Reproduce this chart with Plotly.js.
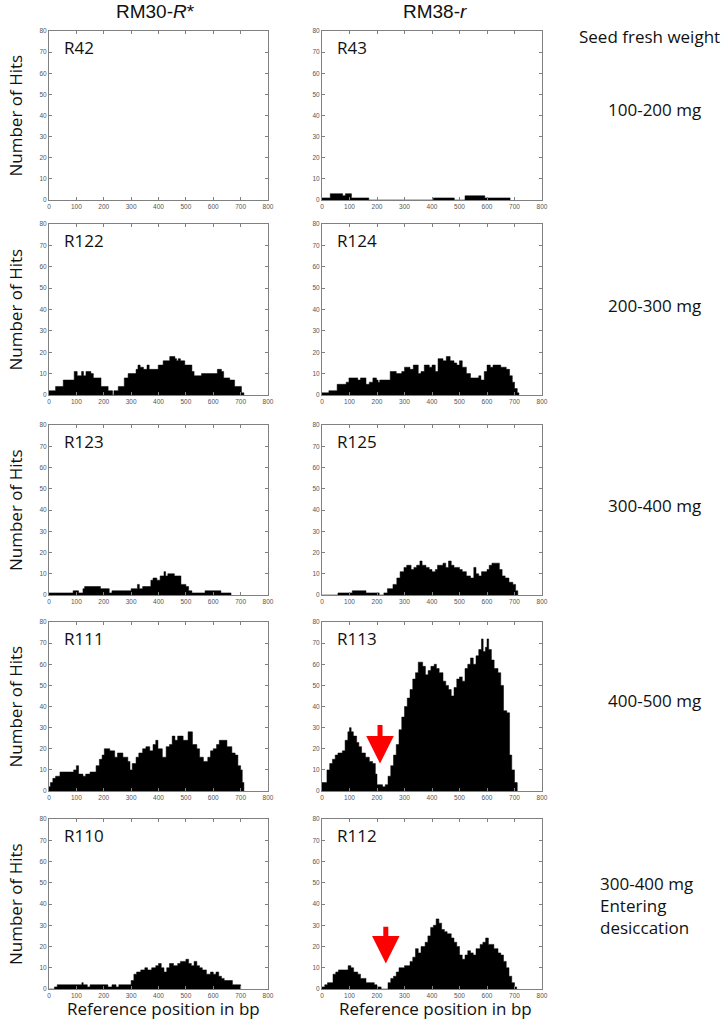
<!DOCTYPE html>
<html>
<head>
<meta charset="utf-8">
<script src="https://cdn.plot.ly/plotly-3.0.1.min.js"></script>
<style>
  html, body { margin: 0; padding: 0; background: #fff; }
  #chart { width: 724px; height: 1028px; }
</style>
</head>
<body>
<div id="chart"></div>
<script>
// coverage profiles: step start position (bp) and number of hits from there on
var r42Pos = [];
var r42Hits = [];
var r43Pos = [0, 30, 75, 85, 107, 170, 405, 481, 520, 592, 684];
var r43Hits = [1, 3, 2, 3, 1, 0, 1, 0, 2, 1, 0];

var r122Pos = [0, 24, 52, 92, 103, 119, 126, 135, 153, 162, 190, 216, 232, 237, 253, 275, 289, 318, 325, 333, 345, 358, 366, 399, 417, 441, 460, 466, 472, 480, 496, 522, 530, 557, 615, 630, 638, 660, 678, 703, 712];
var r122Hits = [2, 4, 7, 11, 9, 11, 9, 11, 10, 8, 4, 2, 0, 2, 4, 8, 10, 12, 14, 13, 12, 14, 12, 14, 16, 18, 17, 16, 17, 16, 14, 11, 9, 10, 12, 11, 8, 7, 4, 1, 0];
var r124Pos = [0, 25, 55, 88, 98, 130, 140, 160, 172, 185, 198, 204, 210, 248, 270, 290, 300, 320, 332, 350, 360, 372, 390, 400, 412, 422, 440, 452, 466, 480, 490, 500, 510, 525, 540, 570, 578, 590, 600, 612, 622, 650, 670, 682, 692, 700, 710, 716];
var r124Hits = [1, 2, 5, 6, 8, 7, 8, 5, 6, 8, 7, 6, 7, 11, 10, 11, 13, 12, 14, 10, 11, 14, 13, 14, 11, 17, 16, 18, 16, 15, 14, 16, 13, 10, 8, 9, 7, 11, 14, 13, 14, 13, 12, 9, 6, 3, 1, 0];

var r123Pos = [0, 88, 108, 124, 130, 188, 220, 230, 300, 323, 330, 342, 372, 380, 394, 406, 420, 426, 434, 458, 482, 500, 510, 522, 570, 628, 665];
var r123Hits = [1, 2, 1, 3, 4, 3, 1, 2, 3, 5, 3, 4, 7, 8, 7, 9, 11, 9, 10, 9, 5, 4, 2, 1, 2, 1, 0];
var r125Pos = [0, 58, 110, 160, 208, 225, 238, 258, 272, 284, 298, 308, 324, 334, 344, 356, 364, 378, 390, 400, 412, 420, 440, 450, 460, 470, 480, 500, 510, 525, 540, 552, 560, 570, 580, 600, 608, 618, 645, 655, 666, 680, 694, 704, 712];
var r125Hits = [0, 1, 2, 1, 0, 1, 3, 5, 8, 11, 13, 14, 12, 13, 14, 16, 14, 13, 12, 11, 12, 14, 15, 13, 16, 14, 13, 12, 11, 9, 8, 13, 10, 9, 11, 12, 14, 15, 12, 9, 8, 6, 5, 2, 0];

var r111Pos = [0, 5, 14, 24, 40, 90, 100, 108, 124, 134, 150, 172, 184, 194, 202, 222, 240, 250, 270, 288, 296, 304, 318, 328, 342, 354, 368, 380, 390, 398, 414, 428, 440, 450, 460, 470, 490, 508, 524, 540, 550, 564, 580, 590, 600, 612, 622, 650, 668, 680, 690, 700, 706, 712];
var r111Hits = [2, 4, 6, 7, 9, 10, 12, 8, 7, 8, 9, 12, 15, 17, 20, 19, 16, 18, 16, 14, 10, 13, 16, 18, 20, 21, 19, 22, 24, 20, 16, 21, 22, 26, 24, 26, 24, 28, 22, 20, 16, 14, 16, 19, 20, 22, 24, 21, 18, 17, 12, 10, 4, 0];
var r113Pos = [0, 18, 28, 38, 48, 58, 74, 84, 94, 100, 106, 114, 126, 134, 144, 158, 172, 184, 194, 200, 220, 230, 240, 250, 260, 270, 280, 290, 300, 310, 320, 330, 340, 350, 366, 376, 386, 396, 408, 416, 426, 440, 450, 460, 470, 480, 490, 500, 510, 520, 530, 540, 550, 560, 570, 580, 586, 594, 600, 606, 616, 626, 640, 650, 660, 672, 682, 690, 700, 710];
var r113Hits = [4, 10, 13, 15, 17, 18, 19, 24, 28, 30, 28, 26, 23, 21, 18, 16, 14, 13, 8, 3, 2, 3, 7, 12, 17, 22, 29, 35, 40, 44, 48, 53, 56, 61, 59, 55, 57, 59, 60, 58, 56, 52, 50, 48, 45, 49, 53, 54, 52, 58, 60, 63, 60, 64, 67, 72, 66, 68, 72, 67, 62, 58, 56, 50, 38, 37, 17, 10, 4, 0];

var r110Pos = [0, 20, 30, 120, 125, 140, 150, 215, 230, 245, 255, 300, 310, 320, 335, 350, 360, 375, 390, 400, 410, 420, 430, 440, 455, 470, 480, 500, 510, 520, 530, 540, 550, 560, 575, 590, 600, 610, 620, 630, 640, 670, 700];
var r110Hits = [0, 1, 2, 3, 2, 1, 2, 1, 2, 1, 2, 4, 7, 8, 9, 10, 9, 10, 11, 12, 10, 8, 10, 12, 11, 12, 13, 14, 12, 11, 13, 11, 10, 9, 7, 8, 7, 8, 6, 5, 4, 2, 0];
var r112Pos = [0, 10, 20, 40, 50, 60, 95, 105, 115, 130, 140, 160, 190, 200, 215, 240, 250, 260, 270, 280, 300, 320, 330, 340, 350, 360, 375, 385, 395, 405, 415, 425, 435, 445, 455, 470, 480, 490, 500, 510, 520, 530, 540, 550, 560, 575, 585, 595, 605, 625, 640, 650, 660, 670, 680, 690, 700, 708];
var r112Hits = [1, 2, 3, 7, 8, 9, 11, 10, 8, 7, 5, 3, 2, 1, 0, 3, 5, 6, 8, 10, 11, 13, 15, 19, 17, 20, 22, 25, 29, 30, 33, 31, 28, 27, 26, 24, 22, 20, 16, 14, 16, 18, 17, 16, 19, 21, 22, 24, 21, 19, 17, 16, 13, 10, 6, 3, 1, 0];

var columnNames = ['RM30-<i>R</i>*', 'RM38-<i>r</i>'];
var rowNames = ['100-200 mg', '200-300 mg', '300-400 mg', '400-500 mg', '300-400 mg<br>Entering<br>desiccation'];

var panels = [
  {name: 'R42', x: r42Pos, y: r42Hits},
  {name: 'R43', x: r43Pos, y: r43Hits},
  {name: 'R122', x: r122Pos, y: r122Hits},
  {name: 'R124', x: r124Pos, y: r124Hits},
  {name: 'R123', x: r123Pos, y: r123Hits},
  {name: 'R125', x: r125Pos, y: r125Hits},
  {name: 'R111', x: r111Pos, y: r111Hits},
  {name: 'R113', x: r113Pos, y: r113Hits},
  {name: 'R110', x: r110Pos, y: r110Hits},
  {name: 'R112', x: r112Pos, y: r112Hits}
];

// pixel frame of each panel
var W = 724, H = 1028;
var rowTop = [31, 224, 425, 622, 819];
var rowBot = [200, 395, 595, 791, 989];
var colLeft = [49, 322];
var colRight = [268, 542];

var labelFont = {family: 'Open Sans', size: 17, color: '#111'};

var data = [];
var layout = {
  width: W,
  height: H,
  margin: {l: 0, r: 0, t: 0, b: 0},
  paper_bgcolor: 'white',
  plot_bgcolor: 'white',
  showlegend: false,
  annotations: []
};

panels.forEach(function (p, i) {
  var r = Math.floor(i / 2), c = i % 2;
  var n = i + 1;
  var xk = n == 1 ? 'x' : 'x' + n;
  var yk = n == 1 ? 'y' : 'y' + n;

  data.push({
    type: 'scatter',
    mode: 'lines',
    x: p.x,
    y: p.y,
    xaxis: xk,
    yaxis: yk,
    line: {shape: 'hv', color: 'black', width: 0.5},
    fill: 'tozeroy',
    fillcolor: 'black',
    hoverinfo: 'skip'
  });

  var axisStyle = {
    showline: true,
    mirror: 'allticks',
    linecolor: '#808080',
    linewidth: 1,
    ticks: 'inside',
    ticklen: 3,
    tickcolor: '#808080',
    tickfont: {family: 'Liberation Sans', size: 6.5, color: '#555'},
    showgrid: false,
    zeroline: false,
    fixedrange: true
  };

  layout[n == 1 ? 'xaxis' : 'xaxis' + n] = Object.assign({}, axisStyle, {
    domain: [colLeft[c] / W, colRight[c] / W],
    anchor: yk,
    range: [0, 800],
    dtick: 100,
    tick0: 0
  });
  layout[n == 1 ? 'yaxis' : 'yaxis' + n] = Object.assign({}, axisStyle, {
    domain: [1 - rowBot[r] / H, 1 - rowTop[r] / H],
    anchor: xk,
    range: [0, 80],
    dtick: 10,
    tick0: 0
  });

  layout.annotations.push({
    xref: xk + ' domain', yref: yk + ' domain',
    x: 0.058, y: 0.905, xanchor: 'left', yanchor: 'middle',
    text: p.name, showarrow: false, font: labelFont
  });
});

// y labels on the left of each row
rowTop.forEach(function (t, r) {
  layout.annotations.push({
    xref: 'paper', yref: 'paper',
    x: 15 / W, y: 1 - (t + rowBot[r]) / 2 / H,
    xanchor: 'center', yanchor: 'middle', textangle: -90,
    text: 'Number of Hits', showarrow: false, font: labelFont
  });
});

// column headers and x labels
var headX = [155, 435];
var footX = [163, 435];
columnNames.forEach(function (name, c) {
  layout.annotations.push({
    xref: 'paper', yref: 'paper', x: headX[c] / W, y: 1 - 12 / H,
    xanchor: 'center', yanchor: 'middle', text: name, showarrow: false,
    font: {family: 'Liberation Sans', size: 19, color: '#111'}
  });
  layout.annotations.push({
    xref: 'paper', yref: 'paper', x: footX[c] / W, y: 1 - 1008 / H,
    xanchor: 'center', yanchor: 'middle', text: 'Reference position in bp',
    showarrow: false, font: labelFont
  });
});

// seed weight labels on the right
layout.annotations.push({
  xref: 'paper', yref: 'paper', x: 649 / W, y: 1 - 37 / H,
  xanchor: 'center', yanchor: 'middle', text: 'Seed fresh weight',
  showarrow: false, font: labelFont
});
var rowLabelY = [110, 305, 505, 700, 905];
rowNames.forEach(function (name, r) {
  var last = r == rowNames.length - 1;
  layout.annotations.push({
    xref: 'paper', yref: 'paper',
    x: (last ? 598 : 654) / W, y: 1 - rowLabelY[r] / H,
    xanchor: last ? 'left' : 'center', yanchor: 'middle', align: 'left',
    text: name, showarrow: false, font: labelFont
  });
});

// red arrows marking the gap
[{ax: 'x8', ay: 'y8', x: 211, tip: 13, tail: 32},
 {ax: 'x10', ay: 'y10', x: 232, tip: 12, tail: 30}].forEach(function (a) {
  layout.annotations.push({
    xref: a.ax, yref: a.ay, axref: a.ax, ayref: a.ay,
    x: a.x, y: a.tip, ax: a.x, ay: a.tail,
    text: '', showarrow: true, arrowhead: 2, arrowsize: 1.1,
    arrowwidth: 5, arrowcolor: '#ff0000', standoff: 0
  });
});

Plotly.newPlot('chart', data, layout, {displayModeBar: false, staticPlot: true});
</script>
</body>
</html>
